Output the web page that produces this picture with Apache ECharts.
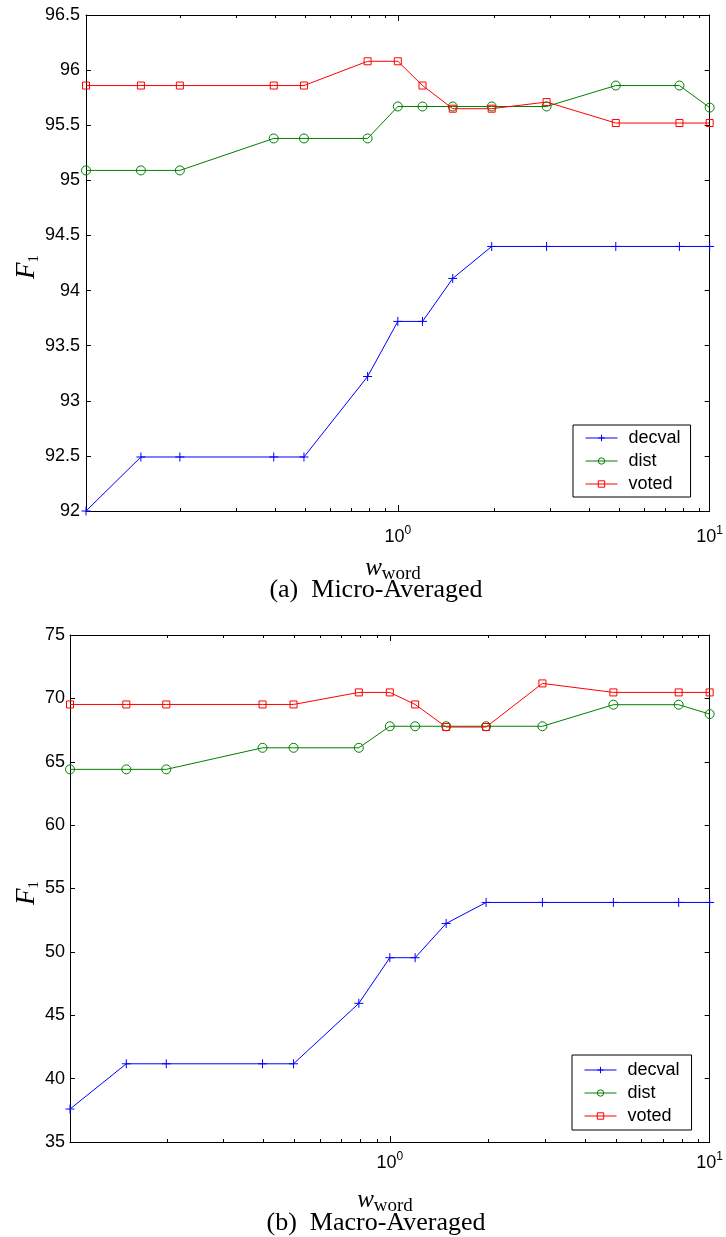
<!DOCTYPE html>
<html>
<head>
<meta charset="utf-8">
<script src="https://cdn.jsdelivr.net/npm/echarts@6/dist/echarts.min.js"></script>
<style>
html,body{margin:0;padding:0;background:#fff;}
#chart{width:726px;height:1237px;}
</style>
</head>
<body>
<div id="chart"></div>
<script>
// ---- data ----
const wWord = [0.1, 0.15, 0.2, 0.4, 0.5, 0.8, 1, 1.2, 1.5, 2, 3, 5, 8, 10];
const seriesNames = ['decval', 'dist', 'voted'];
// (a) Micro-Averaged
const decvalMicro = [92.0, 92.49, 92.49, 92.49, 92.49, 93.22, 93.72, 93.72, 94.11, 94.40, 94.40, 94.40, 94.40, 94.40];
const distMicro   = [95.09, 95.09, 95.09, 95.38, 95.38, 95.38, 95.67, 95.67, 95.67, 95.67, 95.67, 95.86, 95.86, 95.66];
const votedMicro  = [95.86, 95.86, 95.86, 95.86, 95.86, 96.08, 96.08, 95.86, 95.65, 95.65, 95.71, 95.52, 95.52, 95.52];
// (b) Macro-Averaged
const decvalMacro = [37.6, 41.17, 41.17, 41.17, 41.17, 45.94, 49.54, 49.54, 52.24, 53.9, 53.9, 53.9, 53.9, 53.9];
const distMacro   = [64.4, 64.4, 64.4, 66.1, 66.1, 66.1, 67.8, 67.8, 67.8, 67.8, 67.8, 69.5, 69.5, 68.76];
const votedMacro  = [69.52, 69.52, 69.52, 69.52, 69.52, 70.47, 70.47, 69.52, 67.74, 67.74, 71.18, 70.47, 70.47, 70.47];
// ticks
const xMajorTicks = [1];
const xMajorLabels = [1, 10];
const xMinorTicks = [0.2, 0.3, 0.4, 0.5, 0.6, 0.7, 0.8, 0.9, 2, 3, 4, 5, 6, 7, 8, 9];
const yMicro = {min: 92, max: 96.5, interval: 0.5};
const yMacro = {min: 35, max: 75, interval: 5};

// ---- styles ----
const colors = {decval: '#0000ff', dist: '#008000', voted: '#ff0000'};
const symbols = {decval: 'path://M5,0L5,10M0,5L10,5', dist: 'circle', voted: 'rect'};
const symSizes = {decval: 9, dist: 9, voted: 7};
const tickFont = 'Liberation Sans, Arial, sans-serif';
const serif = 'Liberation Serif, Times New Roman, serif';

const grids = [
  {left: 86, right: 12, top: 15, height: 496},
  {left: 70, right: 13, top: 635, height: 507}
];

function zip(ys) { return wWord.map((x, i) => [x, ys[i]]); }

const option = {
  animation: false,
  backgroundColor: '#fff',
  grid: [grids[0], grids[1], Object.assign({}, grids[0]), Object.assign({}, grids[1])],
  xAxis: [],
  yAxis: [],
  legend: [],
  series: [],
  graphic: []
};

function addXAxes(g, labelMargin) {
  const base = {type: 'log', logBase: 10, min: 0.1, max: 10, splitLine: {show: false}};
  option.xAxis.push(Object.assign({}, base, {
    gridIndex: g, position: 'bottom',
    axisLine: {show: true, onZero: false, lineStyle: {color: '#000', width: 1}},
    axisTick: {show: true, inside: true, length: 6, customValues: xMajorTicks, lineStyle: {color: '#000'}},
    axisLabel: {
      show: true, margin: labelMargin, customValues: xMajorLabels,
      formatter: v => '{b|10}{s|' + Math.round(Math.log10(v)) + '}',
      rich: {
        b: {fontFamily: tickFont, fontSize: 18, color: '#000'},
        s: {fontFamily: tickFont, fontSize: 12, color: '#000', padding: [0, 0, 12, 0]}
      }
    }
  }));
  option.xAxis.push(Object.assign({}, base, {
    gridIndex: g, position: 'top',
    axisLine: {show: true, onZero: false, lineStyle: {color: '#000', width: 1}},
    axisTick: {show: true, inside: true, length: 6, customValues: xMajorTicks, lineStyle: {color: '#000'}},
    axisLabel: {show: false}
  }));
  ['bottom', 'top'].forEach(pos => {
    option.xAxis.push(Object.assign({}, base, {
      gridIndex: g + 2, position: pos,
      axisLine: {show: false, onZero: false},
      axisTick: {show: true, inside: true, length: 3, customValues: xMinorTicks, lineStyle: {color: '#000'}},
      axisLabel: {show: false}
    }));
  });
}

function addYAxes(g, yr, labelMargin) {
  option.yAxis.push({
    type: 'value', gridIndex: g, position: 'left', min: yr.min, max: yr.max, interval: yr.interval,
    splitLine: {show: false},
    axisLine: {show: true, onZero: false, lineStyle: {color: '#000', width: 1}},
    axisTick: {show: true, inside: true, length: 5, lineStyle: {color: '#000'}},
    axisLabel: {show: true, margin: labelMargin, fontFamily: tickFont, fontSize: 18, color: '#000'}
  });
  option.yAxis.push({
    type: 'value', gridIndex: g, position: 'right', min: yr.min, max: yr.max, interval: yr.interval,
    splitLine: {show: false},
    axisLine: {show: true, onZero: false, lineStyle: {color: '#000', width: 1}},
    axisTick: {show: true, inside: true, length: 5, lineStyle: {color: '#000'}},
    axisLabel: {show: false}
  });
}

addXAxes(0, 14);
addXAxes(1, 9);
addYAxes(0, yMicro, 6);
addYAxes(1, yMacro, 5);
[2, 3].forEach(g => {
  option.yAxis.push({type: 'value', gridIndex: g, min: 0, max: 1, show: false});
});

function addSeries(xIdx, yIdx, dataMap) {
  seriesNames.forEach(name => {
    const c = colors[name];
    option.series.push({
      type: 'line', name: name, xAxisIndex: xIdx, yAxisIndex: yIdx,
      data: zip(dataMap[name]),
      clip: false,
      symbol: symbols[name], symbolSize: symSizes[name], showSymbol: true,
      lineStyle: {color: c, width: 1},
      itemStyle: {color: 'none', borderColor: c, borderWidth: 1},
      emphasis: {disabled: true}
    });
  });
}
addSeries(0, 0, {decval: decvalMicro, dist: distMicro, voted: votedMicro});
addSeries(4, 2, {decval: decvalMacro, dist: distMacro, voted: votedMacro});

const legendBase = {
  orient: 'vertical', data: seriesNames,
  backgroundColor: '#fff', borderColor: '#000', borderWidth: 1, borderRadius: 0,
  itemWidth: 32, itemHeight: 8, itemGap: 3,
  lineStyle: {width: 1},
  itemStyle: {borderWidth: 1},
  textStyle: {fontFamily: tickFont, fontSize: 18, color: '#000', lineHeight: 20, padding: [0, 0, 0, 6]},
  selectedMode: false
};
option.legend.push(Object.assign({}, legendBase, {left: 573, top: 425, padding: [3, 10, 3, 12]}));
option.legend.push(Object.assign({}, legendBase, {left: 572, top: 1055, padding: [5, 12, 4, 12]}));

function yLabel(x, y) {
  return {
    type: 'text', x: x, y: y, rotation: Math.PI / 2,
    style: {
      text: '{i|F}{s|1}', align: 'center', verticalAlign: 'middle', fill: '#000',
      rich: {
        i: {fontFamily: serif, fontStyle: 'italic', fontSize: 27, fill: '#000'},
        s: {fontFamily: serif, fontSize: 15, fill: '#000', padding: [14, 0, 0, 0]}
      }
    }
  };
}
function xLabel(x, y) {
  return {
    type: 'text', x: x, y: y,
    style: {
      text: '{i|w}{s|word}', align: 'center', verticalAlign: 'middle', fill: '#000',
      rich: {
        i: {fontFamily: serif, fontStyle: 'italic', fontSize: 25, fill: '#000'},
        s: {fontFamily: serif, fontSize: 19, fill: '#000', padding: [12, 0, 0, 0]}
      }
    }
  };
}
function caption(text, x, y) {
  return {
    type: 'text', x: x, y: y,
    style: {text: text, align: 'center', verticalAlign: 'middle', fill: '#000',
      font: '26px ' + serif}
  };
}
option.graphic = [
  yLabel(27, 267),
  yLabel(27, 893),
  xLabel(393, 568),
  xLabel(385, 1200),
  caption('(a)  Micro-Averaged', 376, 590),
  caption('(b)  Macro-Averaged', 376, 1223)
];

const chart = echarts.init(document.getElementById('chart'), null, {renderer: 'canvas'});
chart.setOption(option);
</script>
</body>
</html>
